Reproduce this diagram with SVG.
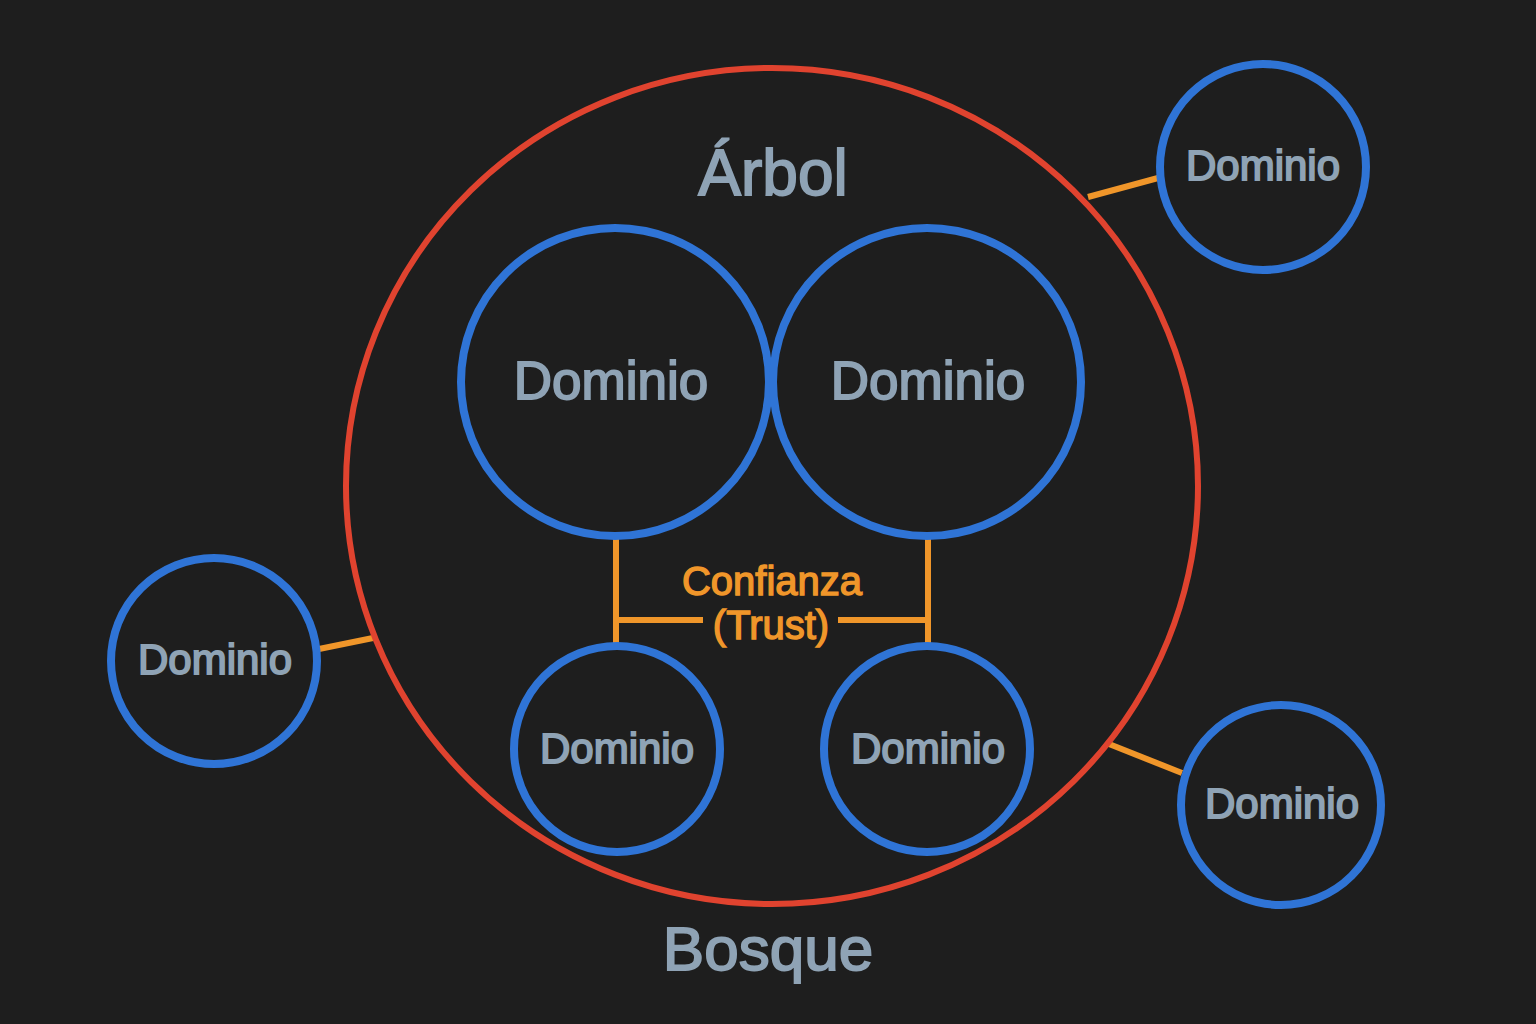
<svg xmlns="http://www.w3.org/2000/svg" width="1536" height="1024" viewBox="0 0 1536 1024">
<style>
.bg{fill:#1e1e1e}
.forest{fill:none;stroke:#e0432f;stroke-width:6}
.dom{fill:none;stroke:#2f74d6;stroke-width:8}
.link{stroke:#f0962a;stroke-width:6;fill:none}
.lbl{font-family:"Liberation Sans",Arial,sans-serif;fill:#8fa3b5;stroke:#8fa3b5;stroke-width:1.8;text-anchor:middle}
.trust{font-family:"Liberation Sans",Arial,sans-serif;fill:#f0962a;stroke:#f0962a;stroke-width:1.4;text-anchor:middle}
</style>
<rect class="bg" x="0" y="0" width="1536" height="1024"/>
<g id="connectors">
<line class="link" x1="1088" y1="197" x2="1158" y2="178"/>
<line class="link" x1="319" y1="649" x2="373" y2="638"/>
<line class="link" x1="1109" y1="744" x2="1182" y2="773"/>
<polyline class="link" points="616,539 616,643"/>
<polyline class="link" points="928,539 928,643"/>
<line class="link" x1="616" y1="620" x2="703" y2="620"/>
<line class="link" x1="838" y1="620" x2="928" y2="620"/>
<text class="trust" x="772" y="595" font-size="40">Confianza</text>
<text class="trust" x="771" y="639" font-size="40">(Trust)</text>
</g>
<g id="forest">
<ellipse class="forest" cx="772" cy="486" rx="426" ry="418"/>
<text class="lbl" x="773" y="195" font-size="64">Árbol</text>
<text class="lbl" x="768" y="970" font-size="62">Bosque</text>
</g>
<g id="dom-tl">
<circle class="dom" cx="615" cy="382" r="154"/>
<text class="lbl" x="611" y="399" font-size="53">Dominio</text>
</g>
<g id="dom-tr">
<circle class="dom" cx="927" cy="382" r="154"/>
<text class="lbl" x="928" y="399" font-size="53">Dominio</text>
</g>
<g id="dom-bl">
<circle class="dom" cx="617" cy="749" r="103"/>
<text class="lbl" x="617" y="763" font-size="42">Dominio</text>
</g>
<g id="dom-br">
<circle class="dom" cx="927" cy="749" r="103"/>
<text class="lbl" x="928" y="763" font-size="42">Dominio</text>
</g>
<g id="dom-out-tr">
<circle class="dom" cx="1263" cy="167" r="103"/>
<text class="lbl" x="1263" y="180" font-size="42">Dominio</text>
</g>
<g id="dom-out-l">
<circle class="dom" cx="214" cy="661" r="103"/>
<text class="lbl" x="215" y="674" font-size="42">Dominio</text>
</g>
<g id="dom-out-br">
<circle class="dom" cx="1281" cy="805" r="100"/>
<text class="lbl" x="1282" y="818" font-size="42">Dominio</text>
</g>
</svg>
